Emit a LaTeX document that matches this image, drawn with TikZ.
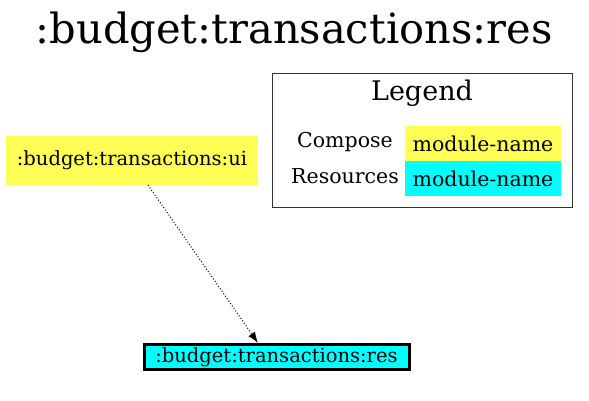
\documentclass[tikz,border=0pt]{standalone}
\usepackage{fontspec}
\setmainfont{DejaVu Serif}
\usetikzlibrary{arrows.meta}
\definecolor{compy}{HTML}{FFFF55}
\definecolor{resc}{HTML}{00FFFF}
\begin{document}
\begin{tikzpicture}[x=1pt,y=-1pt,
  modnode/.style={inner sep=0pt, outer sep=0pt, font=\fontsize{19.5}{21}\selectfont},
  cell/.style={inner sep=0pt, outer sep=0pt, minimum width=156pt, minimum height=35pt, font=\fontsize{20.5}{22}\selectfont},
  lbl/.style={inner sep=0pt, anchor=base east, font=\fontsize{20.5}{22}\selectfont},
  dep/.style={dotted, line width=1pt, -{Latex[length=11pt,width=8pt]}}]
\useasboundingbox (0,0) rectangle (589,401);
\node[inner sep=0pt, anchor=base, font=\fontsize{41.6}{44}\selectfont] (title) at (294,44) {:budget:transactions:res};
\node[modnode, fill=compy, minimum width=252pt, minimum height=49pt] (ui) at (132,160.5) {:budget:transactions:ui};
\node[modnode, fill=resc, draw=black, line width=3pt, minimum width=265pt, minimum height=25pt] (res) at (276.5,357) {:budget:transactions:res};
\coordinate (tip) at (258,343);
\draw[dep] (ui.south -| 148,0) -- (tip);
\node[draw=black!80, line width=0.8pt, minimum width=300pt, minimum height=134pt, inner sep=0pt] (legend) at (422,140) {};
\node[inner sep=0pt, anchor=base, font=\fontsize{27}{30}\selectfont] (legtitle) at (422,101) {Legend};
\node[cell, fill=compy] (c1) at (483,143.5) {module-name};
\node[cell, fill=resc] (c2) at (483,178.5) {module-name};
\node[lbl] (l1) at (393,148) {Compose};
\node[lbl] (l2) at (399,183) {Resources};
\end{tikzpicture}
\end{document}
